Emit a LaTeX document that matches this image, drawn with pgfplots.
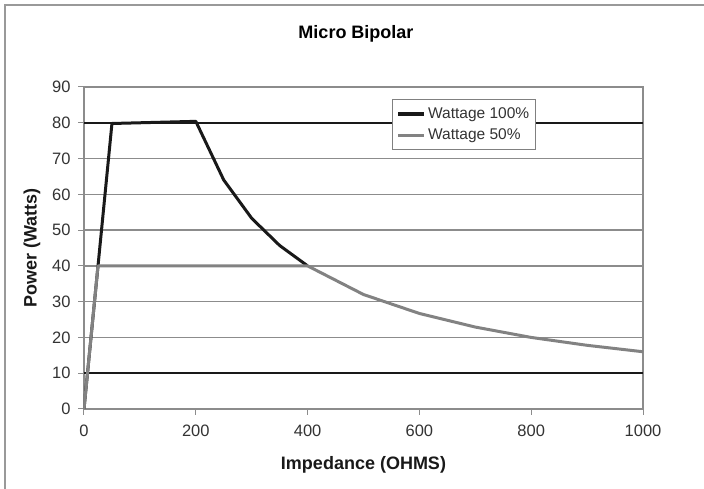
\documentclass[border=0pt]{standalone}
\usepackage{pgfplots}
\pgfplotsset{compat=1.18}
\usepackage{fontspec}
\setmainfont{Liberation Sans}
\definecolor{gridgray}{RGB}{140,140,140}
\definecolor{s50}{RGB}{130,130,130}
\definecolor{s100}{RGB}{25,25,25}
\begin{document}
\begin{tikzpicture}[x=1pt,y=1pt]
\path[use as bounding box] (0,0) rectangle (704,489);
\draw[gray!80, line width=1.5pt] (5,-2) -- (5,484) -- (710,484);
\node[font=\fontsize{18}{21}\selectfont\bfseries] at (356,455) {Micro Bipolar};
\begin{axis}[
  at={(84pt,80pt)}, anchor=south west,
  scale only axis, width=559pt, height=322pt,
  xmin=0, xmax=1000, ymin=0, ymax=90,
  xtick={0,200,...,1000}, ytick={0,10,...,90},
  /pgf/number format/1000 sep={},
  ymajorgrids, major grid style={gridgray, line width=1.5pt},
  axis line style={gridgray, line width=1.2pt},
  tick style={gridgray, line width=1pt},
  tick align=outside, major tick length=6pt,
  xtick pos=bottom, ytick pos=left,
  ticklabel style={font=\fontsize{16.5}{19}\selectfont, text=black!80},
  xticklabel style={yshift=-6pt},
  yticklabel style={xshift=-4pt},
  /pgf/number format/assume math mode=true,
  xlabel={\bfseries Impedance (OHMS)}, ylabel={\bfseries Power (Watts)},
  label style={font=\fontsize{18}{21}\selectfont, text=black!90},
  xlabel style={at={(axis description cs:0.5,0)}, anchor=center, yshift=-56pt},
  ylabel style={at={(axis description cs:0,0.5)}, anchor=center, yshift=52pt},
  legend style={at={(0.551,0.962)}, anchor=north west, draw=gray, line width=1.2pt,
    font=\fontsize{15.5}{18}\selectfont, row sep=5pt, inner xsep=4pt, inner ysep=6pt,
    nodes={text=black!80}},
  legend cell align=left,
  legend image code/.code={\draw[#1, line width=3.5pt] (0pt,0pt) -- (26pt,0pt);},
]
\addplot[s100, line width=1.8pt, forget plot] coordinates {(0,80) (1000,80)};
\addplot[s100, line width=1.8pt, forget plot] coordinates {(0,10) (1000,10)};
\addplot[s100, line width=3pt, line join=round] coordinates {
 (0,0) (50,79.8) (200,80.4) (250,64) (300,53.3) (350,45.7) (400,40)};
\addlegendentry{Wattage 100\%}
\addplot[s50, line width=3pt, line join=round] coordinates {
 (0,0) (25,40) (400,40) (500,32) (600,26.7) (700,22.9) (800,20) (900,17.8) (1000,16)};
\addlegendentry{Wattage 50\%}
\end{axis}
\end{tikzpicture}
\end{document}
